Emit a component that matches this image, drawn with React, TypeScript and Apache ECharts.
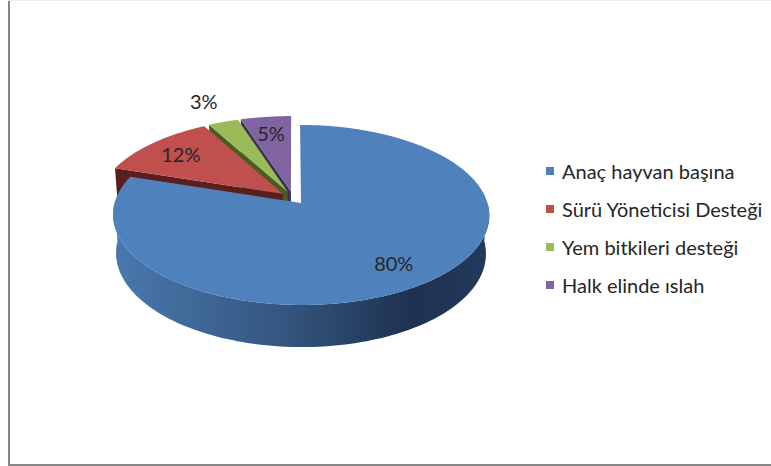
import React, { useEffect, useRef } from 'react';
import * as echarts from 'echarts';

const categories = ['Anaç hayvan başına', 'Sürü Yöneticisi Desteği', 'Yem bitkileri desteği', 'Halk elinde ıslah'];
const values = [80, 12, 3, 5];
const topColors = ['#4F81BD', '#C0504D', '#9BBB59', '#8064A2'];
const wallColors = ['#2c4a70', '#5a1f1d', '#4a5c24', '#3d2f55'];
const explode = [0.073, 0.073, 0.073, 0.073];
const zOrder = [10, 8, 7, 6];

// 3D projection parameters (pie radius, tilt, camera distance, thickness)
const CXS = 293;
const CYS = 197.8;
const R = 185;
const SIN = 0.4705;
const COS = 0.8824;
const D = 1234;
const H = 43.8;
const FONT = 'Lato, "Open Sans", sans-serif';

const proj = (X: number, Z: number, Yh = 0): number[] => {
  const yc = Yh * COS + Z * SIN;
  const zc = -Yh * SIN + Z * COS;
  const s = D / (D + zc);
  return [CXS + X * s, CYS - yc * s];
};

export default function App() {
  const ref = useRef<HTMLDivElement>(null);
  useEffect(() => {
    if (!ref.current) return;
    const chart = echarts.init(ref.current, undefined, { renderer: 'svg' });
    const total = values.reduce((a, b) => a + b, 0);
    const starts: number[] = [];
    let acc = 0;
    values.forEach((v) => {
      starts.push((acc / total) * Math.PI * 2);
      acc += v;
    });

    const makeRender = (idx: number) => (params: any, api: any) => {
      const v = api.value(0);
      const a0 = starts[idx];
      const a1 = a0 + (v / total) * Math.PI * 2;
      const mid = (a0 + a1) / 2;
      const e = explode[idx] * R;
      const vX = e * Math.sin(mid);
      const vZ = e * Math.cos(mid);
      const wp = (a: number, r = 1, y = 0): number[] => proj(vX + R * r * Math.sin(a), vZ + R * r * Math.cos(a), y);
      const arc = (from: number, to: number, y = 0): number[][] => {
        const n = Math.max(2, Math.ceil(((to - from) / (Math.PI * 2)) * 240));
        const out: number[][] = [];
        for (let k = 0; k <= n; k++) out.push(wp(from + ((to - from) * k) / n, 1, y));
        return out;
      };
      const children: any[] = [];
      const radial = (a: number) => ({
        type: 'polygon',
        shape: { points: [proj(vX, vZ), wp(a), wp(a, 1, -H), proj(vX, vZ, -H)] },
        style: { fill: wallColors[idx] },
      });
      if (Math.sin(a0) < -1e-6) children.push(radial(a0));
      if (Math.sin(a1) > 1e-6) children.push(radial(a1));
      const lo = Math.max(a0, Math.PI / 2);
      const hi = Math.min(a1, (Math.PI * 3) / 2);
      if (hi > lo) {
        const topPts = arc(lo, hi);
        const botPts = arc(lo, hi, -H).reverse();
        const fill =
          idx === 0
            ? new echarts.graphic.LinearGradient(
                115,
                0,
                488,
                0,
                [
                  { offset: 0, color: '#4a78ae' },
                  { offset: 0.45, color: '#34567f' },
                  { offset: 0.8, color: '#1e3150' },
                  { offset: 1, color: '#223a5c' },
                ],
                true
              )
            : wallColors[idx];
        children.push({ type: 'polygon', shape: { points: topPts.concat(botPts) }, style: { fill } });
      }
      children.push({
        type: 'polygon',
        shape: { points: [proj(vX, vZ)].concat(arc(a0, a1)) },
        style: { fill: topColors[idx] },
      });
      const pct = Math.round((v / total) * 100);
      const f = pct >= 4 ? 0.77 : 1.35;
      const lp = wp(mid, f);
      children.push({
        type: 'text',
        z2: 100,
        style: {
          text: pct + '%',
          x: lp[0],
          y: lp[1],
          align: 'center',
          verticalAlign: 'middle',
          fill: '#262626',
          font: '20px ' + FONT,
        },
      });
      return { type: 'group', children };
    };

    const series = categories.map((name, i) => ({
      type: 'custom',
      name,
      coordinateSystem: 'none',
      z: zOrder[i],
      color: topColors[i],
      itemStyle: { color: topColors[i] },
      data: [[values[i]]],
      renderItem: makeRender(i),
    }));

    chart.setOption({
      animation: false,
      legend: {
        data: categories,
        orient: 'vertical',
        left: 541,
        top: 155,
        icon: 'rect',
        itemWidth: 8,
        itemHeight: 8,
        itemGap: 16,
        selectedMode: false,
        textStyle: { fontSize: 20, fontFamily: FONT, color: '#262626', lineHeight: 22, padding: [0, 0, 0, 3] },
      },
      graphic: [
        { type: 'line', shape: { x1: 9, y1: 0, x2: 9, y2: 466 }, style: { stroke: '#868686', lineWidth: 2 } },
        { type: 'line', shape: { x1: 8, y1: 465, x2: 771, y2: 465 }, style: { stroke: '#868686', lineWidth: 2 } },
        { type: 'line', shape: { x1: 8, y1: 0.5, x2: 771, y2: 0.5 }, style: { stroke: '#ececec', lineWidth: 1 } },
      ],
      series,
    });
    return () => chart.dispose();
  }, []);
  return <div ref={ref} style={{ position: 'absolute', left: 0, top: 0, width: 771, height: 466 }} />;
}
